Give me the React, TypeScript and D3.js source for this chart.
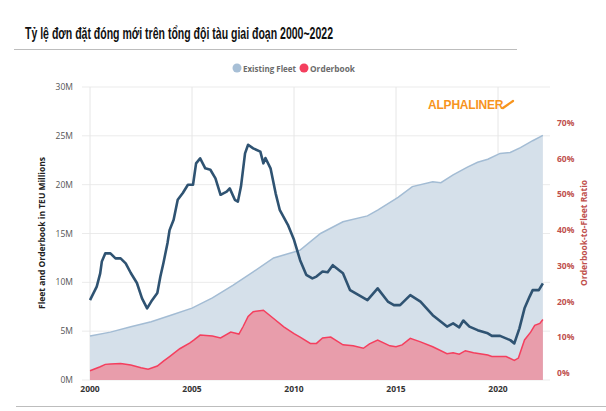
import * as d3 from 'd3';

// Existing fleet, million TEU (left axis)
const fleetYears = [2000, 2001, 2002, 2003, 2004, 2005, 2006, 2007, 2008, 2009, 2010, 2010.3, 2011.3, 2012.4, 2013.6, 2014.1, 2015.1, 2015.8, 2016.8, 2017.2, 2017.8, 2018.5, 2019, 2019.5, 2020.1, 2020.6, 2021.1, 2021.7, 2022.2];
const fleetValues = [4.5, 4.9, 5.45, 5.96, 6.65, 7.36, 8.4, 9.7, 11.07, 12.5, 13.1, 13.3, 15.0, 16.2, 16.8, 17.4, 18.7, 19.8, 20.3, 20.2, 21.0, 21.8, 22.3, 22.6, 23.2, 23.3, 23.8, 24.5, 25.05];

// Orderbook, million TEU (left axis)
const orderYears = [2000, 2000.5, 2000.75, 2001, 2001.5, 2002, 2002.5, 2002.85, 2003.3, 2003.6, 2003.9, 2004.4, 2004.9, 2005.1, 2005.4, 2006, 2006.4, 2006.9, 2007.3, 2007.5, 2007.75, 2008, 2008.5, 2009, 2009.5, 2010, 2010.3, 2010.8, 2011.1, 2011.4, 2011.8, 2012.4, 2012.9, 2013.4, 2013.7, 2014.1, 2014.7, 2015, 2015.3, 2015.7, 2016.2, 2016.8, 2017.5, 2017.8, 2018.1, 2018.4, 2018.8, 2019.5, 2019.7, 2020.1, 2020.4, 2020.8, 2021.0, 2021.3, 2021.6, 2021.8, 2022.05, 2022.2];
const orderValues = [0.95, 1.36, 1.6, 1.64, 1.7, 1.53, 1.26, 1.1, 1.43, 1.94, 2.4, 3.2, 3.8, 4.1, 4.6, 4.5, 4.3, 4.9, 4.7, 5.45, 6.5, 7.0, 7.15, 6.3, 5.45, 4.75, 4.4, 3.75, 3.75, 4.3, 4.4, 3.6, 3.5, 3.25, 3.7, 4.1, 3.5, 3.4, 3.6, 4.26, 3.9, 3.4, 2.7, 2.8, 2.65, 3.0, 2.8, 2.55, 2.4, 2.4, 2.4, 2.0, 2.25, 4.1, 4.9, 5.6, 5.8, 6.2];

// Orderbook-to-fleet ratio, % (right axis)
const ratioYears = [2000, 2000.33, 2000.5, 2000.58, 2000.75, 2001, 2001.25, 2001.5, 2001.75, 2002, 2002.3, 2002.55, 2002.8, 2003.0, 2003.3, 2003.45, 2003.6, 2003.8, 2003.9, 2004.1, 2004.3, 2004.55, 2004.8, 2005.05, 2005.2, 2005.4, 2005.65, 2005.9, 2006.15, 2006.4, 2006.7, 2006.85, 2007.1, 2007.25, 2007.4, 2007.6, 2007.75, 2008, 2008.35, 2008.5, 2008.6, 2008.85, 2009.1, 2009.3, 2009.7, 2010, 2010.3, 2010.6, 2010.9, 2011.1, 2011.4, 2011.65, 2011.9, 2012.4, 2012.75, 2013.6, 2014.1, 2014.6, 2014.9, 2015.2, 2015.7, 2016.2, 2016.8, 2017.5, 2017.8, 2018.1, 2018.3, 2018.6, 2019, 2019.5, 2019.7, 2020.1, 2020.6, 2020.8, 2021.05, 2021.3, 2021.55, 2021.7, 2022, 2022.2];
const ratioValues = [20.4, 24.2, 27.9, 31.2, 33.5, 33.5, 32.1, 32.1, 30.7, 28, 25.2, 20.9, 18.1, 20, 22.4, 27, 30.8, 36.4, 40, 42.9, 48.5, 50.4, 52.7, 52.7, 58.7, 60.1, 57.3, 56.9, 54.5, 49.9, 50.8, 51.7, 48.5, 48, 52.2, 61.5, 63.9, 62.9, 62, 58.7, 60.2, 57.3, 50.3, 45.7, 41.5, 37.3, 31.6, 27.5, 26.5, 27, 28.4, 28.2, 30.2, 27.9, 23.2, 20.4, 23.7, 20, 19, 19, 21.8, 20, 16.2, 13, 13.9, 12.8, 14.7, 13, 12, 11.1, 10.4, 10.4, 9.2, 8.3, 12.5, 18.1, 21.4, 23.2, 23.2, 25.1];

const leftTicks = [0, 5, 10, 15, 20, 25, 30];
const rightTicks = [0, 10, 20, 30, 40, 50, 60, 70];
const yearTicks = [2000, 2005, 2010, 2015, 2020];

const TITLE = 'Tỷ lệ đơn đặt đóng mới trên tổng đội tàu giai đoạn 2000~2022';

const W = 606;
const H = 411;
const sans = '"Open Sans", "Noto Sans", sans-serif';

export default function App() {
  const x = d3.scaleLinear().domain([2000, 2025]).range([90, 600]);
  const yL = d3.scaleLinear().domain([0, 30]).range([380, 87]);
  const yR = d3.scaleLinear().domain([0, 70]).range([373, 123]);

  const fleet = fleetYears.map((t, i) => [t, fleetValues[i]] as [number, number]);
  const order = orderYears.map((t, i) => [t, orderValues[i]] as [number, number]);
  const ratio = ratioYears.map((t, i) => [t, ratioValues[i]] as [number, number]);

  const area = d3.area<[number, number]>().x((d) => x(d[0])).y0(yL(0)).y1((d) => yL(d[1]));
  const lineL = d3.line<[number, number]>().x((d) => x(d[0])).y((d) => yL(d[1]));
  const lineR = d3.line<[number, number]>().x((d) => x(d[0])).y((d) => yR(d[1]));

  const gridRight = 550;

  return (
    <svg width={W} height={H} style={{ position: 'absolute', left: 0, top: 0, background: '#fff' }}>
      {/* header */}
      <text x={25} y={39} fontFamily='"Liberation Sans", Arial, sans-serif' fontWeight={700} fontSize={16} fill="#111"
        textLength={308} lengthAdjust="spacingAndGlyphs">
        {TITLE}
      </text>
      <line x1={14} x2={517} y1={49.5} y2={49.5} stroke="#bdbdbd" strokeWidth={1} />
      <line x1={16} x2={606} y1={406.5} y2={406.5} stroke="#bdbdbd" strokeWidth={1} />

      {/* legend */}
      <circle cx={237} cy={68} r={4.5} fill="#a7bfd6" />
      <text x={243} y={71.5} fontFamily={sans} fontWeight={700} fontSize={8.5} fill="#6b6b6b" textLength={53} lengthAdjust="spacingAndGlyphs">Existing Fleet</text>
      <circle cx={304} cy={68} r={4.5} fill="#f43f5e" />
      <text x={310} y={71.5} fontFamily={sans} fontWeight={700} fontSize={8.5} fill="#6b6b6b" textLength={45} lengthAdjust="spacingAndGlyphs">Orderbook</text>

      {/* grid */}
      {leftTicks.map((t) => (
        <line key={'h' + t} x1={82} x2={gridRight} y1={yL(t)} y2={yL(t)} stroke="#ebebeb" strokeWidth={1} />
      ))}
      {yearTicks.map((t) => (
        <line key={'v' + t} x1={x(t)} x2={x(t)} y1={yL(30)} y2={yL(0)} stroke="#e6e6e6" strokeWidth={1} />
      ))}

      {/* logo */}
      <text x={428} y={108.5} fontFamily='"Liberation Sans", Arial, sans-serif' fontWeight={700} fontSize={12} fill="#f7941d" letterSpacing={-0.2}>
        ALPHALINER
      </text>
      <line x1={503} x2={513} y1={108} y2={101} stroke="#f7941d" strokeWidth={2.2} strokeLinecap="round" />

      {/* areas */}
      <path d={area(fleet) ?? ''} fill="#d5e0ea" />
      <path d={lineL(fleet) ?? ''} fill="none" stroke="#a3bcd4" strokeWidth={1.5} />
      <path d={area(order) ?? ''} fill="#e89dab" />
      <path d={lineL(order) ?? ''} fill="none" stroke="#f43f5e" strokeWidth={1.5} />

      {/* ratio line */}
      <path d={lineR(ratio) ?? ''} fill="none" stroke="#2f5372" strokeWidth={2.6} strokeLinejoin="round" />

      {/* left axis */}
      {leftTicks.map((t) => (
        <text key={'l' + t} x={73} y={yL(t) + 3} textAnchor="end" fontFamily={sans} fontSize={8.5} fill="#555">
          {t}M
        </text>
      ))}
      <text transform={`translate(45,${233}) rotate(-90)`} textAnchor="middle" fontFamily={sans} fontWeight={700} fontSize={8.5} fill="#222">
        Fleet and Orderbook in TEU Millions
      </text>

      {/* x axis */}
      {yearTicks.map((t) => (
        <text key={'x' + t} x={x(t)} y={392} textAnchor="middle" fontFamily={sans} fontWeight={700} fontSize={8.5} fill="#333">
          {t}
        </text>
      ))}

      {/* right axis */}
      {rightTicks.map((t) => (
        <text key={'r' + t} x={557} y={yR(t) + 3} fontFamily={sans} fontWeight={700} fontSize={8.5} fill="#c0504d">
          {t}%
        </text>
      ))}
      <text transform={`translate(587,${233}) rotate(-90)`} textAnchor="middle" fontFamily={sans} fontWeight={700} fontSize={8.5} fill="#c0504d">
        Orderbook-to-Fleet Ratio
      </text>
    </svg>
  );
}
